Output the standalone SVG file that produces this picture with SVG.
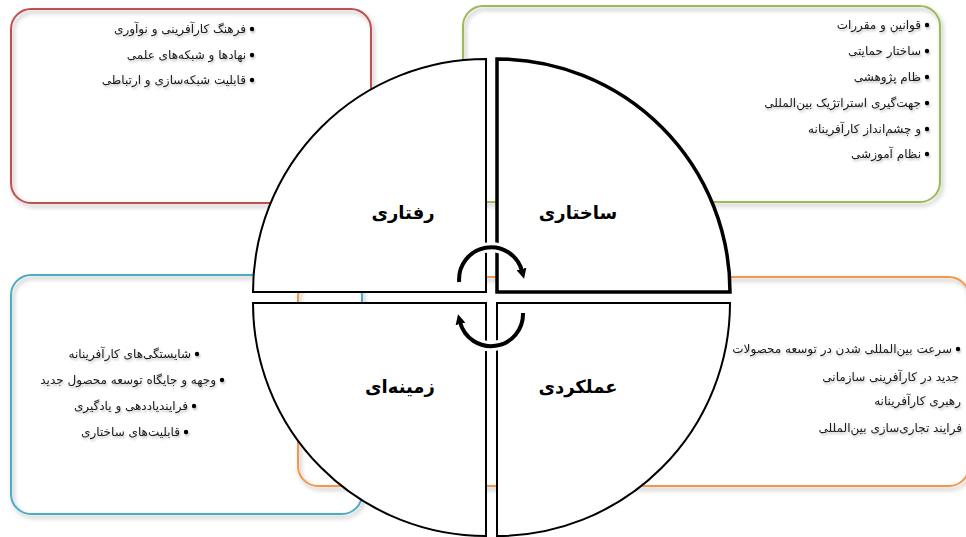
<svg xmlns="http://www.w3.org/2000/svg" width="966" height="537" viewBox="0 0 966 537">
<defs>
<style>
.box{fill:none;stroke-width:2}
.txt{font-family:"DejaVu Sans",sans-serif;font-size:12px;fill:#1a1a1a;text-anchor:end}
.lbl{font-family:"DejaVu Sans",sans-serif;font-size:18px;font-weight:bold;fill:#000;text-anchor:middle}
.q{fill:#fff;stroke:#000;stroke-width:2;stroke-linejoin:miter}
.halo{fill:none;stroke:#fff;stroke-width:10}
.arc{fill:none;stroke:#000;stroke-width:4}
.bul{fill:#000}
</style>
<filter id="sh" x="-10%" y="-10%" width="120%" height="120%">
<feDropShadow dx="2" dy="3" stdDeviation="2" flood-color="#000" flood-opacity="0.3"/>
</filter>
<filter id="tsh" x="-10%" y="-30%" width="120%" height="160%">
<feDropShadow dx="1" dy="2" stdDeviation="1" flood-color="#000" flood-opacity="0.25"/>
</filter>
<marker id="ah" markerWidth="10" markerHeight="10" refX="2" refY="5" orient="auto" markerUnits="userSpaceOnUse">
<path d="M0,0 L10,5 L0,10 z" fill="#000"/>
</marker>
</defs>
<rect width="966" height="537" fill="#fff"/>

<g id="box-red" filter="url(#sh)">
<rect class="box" x="11" y="9" width="360" height="194" rx="20" stroke="#c0504d"/>
</g>
<g id="box-green" filter="url(#sh)">
<rect class="box" x="463" y="6" width="477" height="196" rx="20" stroke="#9bbb59"/>
</g>
<g id="box-orange" filter="url(#sh)">
<rect class="box" x="298" y="277" width="671" height="209" rx="20" stroke="#f79646"/>
</g>
<g id="box-blue" filter="url(#sh)">
<rect class="box" x="11" y="275" width="351" height="239" rx="20" stroke="#4bacc6"/>
</g>

<g id="text-red" filter="url(#tsh)">
<circle class="bul" cx="252" cy="29" r="2.2"/>
<text class="txt" x="246" y="33">فرهنگ کارآفرینی و نوآوری</text>
<circle class="bul" cx="252" cy="55" r="2.2"/>
<text class="txt" x="246" y="59">نهادها و شبکه‌های علمی</text>
<circle class="bul" cx="252" cy="80" r="2.2"/>
<text class="txt" x="246" y="84">قابلیت شبکه‌سازی و ارتباطی</text>
</g>

<g id="text-green" filter="url(#tsh)">
<circle class="bul" cx="927" cy="25" r="2.2"/>
<text class="txt" x="921" y="29">قوانین و مقررات</text>
<circle class="bul" cx="927" cy="51" r="2.2"/>
<text class="txt" x="921" y="55">ساختار حمایتی</text>
<circle class="bul" cx="927" cy="77" r="2.2"/>
<text class="txt" x="921" y="81">ظام پژوهشی</text>
<circle class="bul" cx="927" cy="103" r="2.2"/>
<text class="txt" x="921" y="107">جهت‌گیری استراتژیک بین‌المللی</text>
<circle class="bul" cx="927" cy="129" r="2.2"/>
<text class="txt" x="921" y="133">و چشم‌انداز کارآفرینانه</text>
<circle class="bul" cx="927" cy="154" r="2.2"/>
<text class="txt" x="921" y="158">نظام آموزشی</text>
</g>

<g id="text-blue" filter="url(#tsh)">
<circle class="bul" cx="197" cy="354" r="2.2"/>
<text class="txt" x="191" y="358">شایستگی‌های کارآفرینانه</text>
<circle class="bul" cx="222" cy="380" r="2.2"/>
<text class="txt" x="216" y="384">وجهه و جایگاه توسعه محصول جدید</text>
<circle class="bul" cx="194" cy="406" r="2.2"/>
<text class="txt" x="188" y="410">فرایندیاددهی و یادگیری</text>
<circle class="bul" cx="186" cy="432" r="2.2"/>
<text class="txt" x="180" y="436">قابلیت‌های ساختاری</text>
</g>

<g id="text-orange" filter="url(#tsh)">
<circle class="bul" cx="958" cy="349" r="2.2"/>
<text class="txt" x="952" y="353">سرعت بین‌المللی شدن در توسعه محصولات</text>
<text class="txt" x="959" y="381">جدید در کارآفرینی سازمانی</text>
<text class="txt" x="961" y="405">رهبری کارآفرینانه</text>
<text class="txt" x="962" y="432">فرایند تجاری‌سازی بین‌المللی</text>
</g>

<g id="q-behavioral">
<path class="q" d="M486,292 L253,292 A233,233 0 0 1 486,59 Z"/>
<text class="lbl" x="403" y="219">رفتاری</text>
</g>
<g id="q-structural">
<path class="q" style="stroke-width:3.5" d="M497,292 L497,59 A233,233 0 0 1 730,292 Z"/>
<text class="lbl" x="578" y="219">ساختاری</text>
</g>
<g id="q-contextual">
<path class="q" d="M486,303 L253,303 A233,233 0 0 0 486,536 Z"/>
<text class="lbl" x="400" y="393">زمینه‌ای</text>
</g>
<g id="q-performance">
<path class="q" d="M497,303 L730,303 A233,233 0 0 1 497,536 Z"/>
<text class="lbl" x="578" y="393">عملکردی</text>
</g>

<g id="connectors">
<path class="halo" d="M459.2,282 A32,32 0 0 1 522,271"/>
<path class="arc" d="M459.2,282 A32,32 0 0 1 522,271" marker-end="url(#ah)"/>
<path class="halo" d="M523,313 A32,32 0 0 1 460,322"/>
<path class="arc" d="M523,313 A32,32 0 0 1 460,322" marker-end="url(#ah)"/>
</g>
</svg>
